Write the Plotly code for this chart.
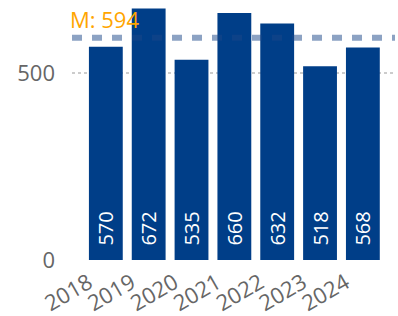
import plotly.graph_objects as go

years = ["2018", "2019", "2020", "2021", "2022", "2023", "2024"]
values = [570, 672, 535, 660, 632, 518, 568]
mean_value = 594
mean_label = "M: 594"

positions = list(range(len(years)))
label_offset = 0.4
pad = "<span style='color:rgba(0,0,0,0)'>0</span>"

fig = go.Figure()
fig.add_trace(go.Bar(
    x=positions, y=values,
    marker=dict(color="#003E88", line=dict(width=0)),
    text=[f"{pad}{v}" for v in values],
    textposition="inside",
    insidetextanchor="start",
    textangle=-90,
    textfont=dict(color="white", size=20, family="Open Sans"),
    width=0.79,
))

fig.add_shape(type="line", xref="paper", yref="y", x0=0, x1=1, y0=mean_value, y1=mean_value,
              line=dict(color="rgba(25,70,135,0.5)", width=6, dash="10px,10px"))
fig.add_annotation(xref="paper", yref="y", x=0, y=mean_value, xanchor="left", yanchor="bottom",
                   text=mean_label, showarrow=False, yshift=2, xshift=-4,
                   font=dict(color="#FFA500", size=22, family="Open Sans"))

fig.update_layout(
    width=398, height=316,
    margin=dict(l=72, r=3, t=0, b=56),
    plot_bgcolor="white", paper_bgcolor="white",
    showlegend=False,
    font=dict(family="Open Sans", color="#666666"),
    uniformtext=dict(mode="show", minsize=10),
)
fig.update_xaxes(range=[-0.79, 6.75], tickangle=-30, tickfont=dict(size=22, color="#666666"),
                 tickvals=[p - label_offset for p in positions], ticktext=years,
                 showgrid=False, showline=False, ticks="", zeroline=False, ticklabelstandoff=5)
fig.update_yaxes(range=[0, 695], tickvals=[0, 500], tickfont=dict(size=22, color="#666666"),
                 showgrid=True, gridcolor="#cccccc", gridwidth=2, griddash="dot",
                 zeroline=False, showline=False, ticks="", ticklabelstandoff=16)

fig.write_html("out.html", config={"displayModeBar": False},
               post_script="document.body.style.margin='0';")
